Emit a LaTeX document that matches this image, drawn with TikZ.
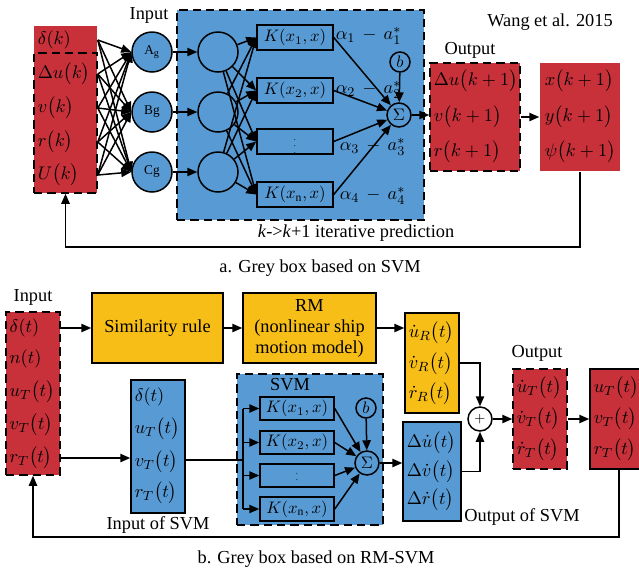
\documentclass[tikz,border=0pt]{standalone}
\usepackage{fontspec}
\setmainfont{Liberation Serif}
\usepackage{amsmath}
\usetikzlibrary{arrows.meta,positioning,fit,calc}
\definecolor{boxred}{RGB}{200,48,58}
\definecolor{boxblue}{RGB}{88,155,212}
\definecolor{boxyellow}{RGB}{247,190,24}

\begin{document}
\begin{tikzpicture}[x=0.6pt, y=-0.6pt, line width=0.9pt,
    font=\fontsize{11}{12.6}\selectfont,
    >={Triangle[length=6pt,width=5pt]},
    redfill/.style={fill=boxred, inner sep=0pt},
    bluefill/.style={fill=boxblue, inner sep=0pt},
    yelfill/.style={fill=boxyellow, inner sep=0pt},
    dashbox/.style={draw, dash pattern=on 5pt off 3pt, inner sep=0pt},
    solidbox/.style={draw, inner sep=0pt},
    row/.style={anchor=west, inner sep=0pt},
    bcirc/.style={draw, circle, fill=boxblue, minimum size=24pt, inner sep=0pt, font=\fontsize{8}{9}\selectfont},
    ocirc/.style={draw, circle, minimum size=24pt, inner sep=0pt},
    kbox/.style={draw, inner sep=0pt},
    klbl/.style={inner sep=0pt, font=\fontsize{10}{11}\selectfont},
    sumc/.style={draw, circle, minimum size=14.4pt, inner sep=0pt, font=\fontsize{10}{11}\selectfont},
    bc/.style={draw, circle, minimum size=12pt, inner sep=0pt, font=\fontsize{10}{11}\selectfont}]

    \useasboundingbox (0,0) rectangle (639,574);
    \clip (0,0) rectangle (639,574);

    % a. grey box based on SVM
    \node[redfill, fit={(34,26) (97,193)}] (inA) {};
    \node[dashbox, fit={(34,53) (97,193)}] (inAd) {};
    \node[row] (dk) at (37,40) {$\delta(k)$};
    \node[row] (duk) at (37,74) {$\Delta u\bigl(k\bigr)$};
    \node[row] (vk) at (37,108) {$v\bigl(k\bigr)$};
    \node[row] (rk) at (37,142) {$r\bigl(k\bigr)$};
    \node[row] (Uk) at (37,175) {$U\bigl(k\bigr)$};
    \node (inlblA) at (149,15) {Input};

    \node[bcirc] (Ag) at (152,52) {A$_\mathrm{g}$};
    \node[bcirc] (Bg) at (152,112) {Bg};
    \node[bcirc] (Cg) at (152,172) {Cg};

    \node[bluefill, dashbox, fit={(177,10) (424,220)}] (svmA) {};
    \node[ocirc] (n1) at (218,52) {};
    \node[ocirc] (n2) at (218,112) {};
    \node[ocirc] (n3) at (218,172) {};
    \node[kbox, fit={(257,25) (333,50)}] (k1) {};
    \node[kbox, fit={(257,78) (333,103)}] (k2) {};
    \node[kbox, fit={(257,129) (333,154)}] (k3) {};
    \node[kbox, fit={(257,182) (333,207)}] (k4) {};
    \node[klbl] (k1l) at (k1) {$K(x_1,x)$};
    \node[klbl] (k2l) at (k2) {$K(x_2,x)$};
    \node[klbl] (k3l) at (k3) {\tiny$\vdots$};
    \node[klbl] (k4l) at (k4) {$K(x_\mathrm{n},x)$};
    \node[bc] (bA) at (400,62) {$b$};
    \node[sumc] (sumA) at (399,115) {$\Sigma$};

    \foreach \r in {dk,duk,vk,rk,Uk}
        \foreach \c in {Ag,Bg,Cg}
            \draw[->] (inA.east |- \r) -- (\c.west);
    \draw[->] (Ag) -- (n1);
    \draw[->] (Bg) -- (n2);
    \draw[->] (Cg) -- (n3);
    \foreach \n in {n1,n2,n3}
        \foreach \k in {k1,k2,k3,k4}
            \draw[->] (\n) -- (\k.west);
    \foreach \k in {k1,k2,k3,k4}
        \draw[->] (\k.east) -- (sumA);
    \draw[->] (bA) -- (sumA);

    \node[row] (al1) at (335,36) {$\alpha_1\,-\,a_1^{*}$};
    \node[row] (al2) at (335,90) {$\alpha_2\,-\,a_2^{*}$};
    \node[row] (al3) at (339,147) {$\alpha_3\,-\,a_3^{*}$};
    \node[row] (al4) at (339,196) {$\alpha_4\,-\,a_4^{*}$};

    \node[redfill, dashbox, fit={(430,63) (520,171)}] (outA) {};
    \node (outlblA) at (470,50) {Output};
    \node[row] (duk1) at (433,81) {$\Delta u\bigl(k+1\bigr)$};
    \node[row] (vk1) at (433,117) {$v\bigl(k+1\bigr)$};
    \node[row] (rk1) at (433,152) {$r\bigl(k+1\bigr)$};

    \node[redfill, fit={(540,63) (620,171)}] (posA) {};
    \node[row] (xk1) at (544,81) {$x\bigl(k+1\bigr)$};
    \node[row] (yk1) at (544,117) {$y\bigl(k+1\bigr)$};
    \node[row] (psik1) at (544,152) {$\psi\bigl(k+1\bigr)$};
    \node (wang) at (550,22) {Wang et al. 2015};

    \draw[->] (sumA) -- (outA.west |- sumA);
    \draw[->] (outA.east |- vk1) -- (posA.west |- vk1);
    \draw[->] (posA.south) -- ++(0,75) -| (inA.south);
    \node (iterlbl) at (356,233) {\textit{k}->\textit{k}+1 iterative prediction};
    \node (capA) at (320,268) {a. Grey box based on SVM};

    % b. grey box based on RM-SVM
    \node (inlblB) at (33,297) {Input};
    \node[redfill, dashbox, fit={(6,312) (60,475)}] (inB) {};
    \node[row] (dt) at (9,328) {$\delta(t)$};
    \node[row] (nt) at (9,359) {$n(t)$};
    \node[row] (ut) at (9,392) {$u_T\bigl(t\bigr)$};
    \node[row] (vt) at (9,425) {$v_T\bigl(t\bigr)$};
    \node[row] (rt) at (9,458) {$r_T\bigl(t\bigr)$};

    \node[yelfill, solidbox, fit={(92,293) (223,363)}] (sim) {};
    \node (siml) at (sim) {Similarity rule};
    \node[yelfill, solidbox, fit={(243,293) (376,363)}] (rm) {};
    \node[align=center] (rml) at (rm) {RM\\(nonlinear ship\\motion model)};
    \node[yelfill, solidbox, fit={(405,313) (459,413)}] (yel) {};
    \node[row] (udr) at (408,333) {$\dot u_R\bigl(t\bigr)$};
    \node[row] (vdr) at (408,364) {$\dot v_R\bigl(t\bigr)$};
    \node[row] (rdr) at (408,394) {$\dot r_R\bigl(t\bigr)$};

    \node[bluefill, solidbox, fit={(131,380) (185,513)}] (insvm) {};
    \node[row] (sdt) at (134,397) {$\delta(t)$};
    \node[row] (sut) at (134,429) {$u_T\bigl(t\bigr)$};
    \node[row] (svt) at (134,462) {$v_T\bigl(t\bigr)$};
    \node[row] (srt) at (134,493) {$r_T\bigl(t\bigr)$};
    \node (inlblS) at (158,525) {Input of SVM};

    \node[bluefill, dashbox, fit={(237,374) (383,525)}] (svmB) {};
    \node (svmlbl) at (290,385) {SVM};
    \node[kbox, fit={(260,397) (334,420)}] (kb1) {};
    \node[kbox, fit={(260,431) (334,454)}] (kb2) {};
    \node[kbox, fit={(260,464) (334,487)}] (kb3) {};
    \node[kbox, fit={(260,497) (334,521)}] (kb4) {};
    \node[klbl] (kb1l) at (kb1) {$K(x_1,x)$};
    \node[klbl] (kb2l) at (kb2) {$K(x_2,x)$};
    \node[klbl] (kb3l) at (kb3) {\tiny$\vdots$};
    \node[klbl] (kb4l) at (kb4) {$K(x_\mathrm{n},x)$};
    \node[bc] (bB) at (366,408) {$b$};
    \node[sumc] (sumB) at (367,463) {$\Sigma$};
    \coordinate (br) at (243,460);

    \node[bluefill, solidbox, fit={(403,422) (461,521)}] (dl) {};
    \node[row] (dud) at (406,443) {$\Delta\dot u\bigl(t\bigr)$};
    \node[row] (dvd) at (406,472) {$\Delta\dot v\bigl(t\bigr)$};
    \node[row] (drd) at (406,500) {$\Delta\dot r\bigl(t\bigr)$};
    \node (outlblS) at (522,517) {Output of SVM};

    \node[draw, circle, fill=white, minimum size=14.4pt, inner sep=0pt, font=\fontsize{8}{9}\selectfont] (plus) at (480,419) {$+$};

    \node[redfill, dashbox, fit={(513,369) (567,469)}] (outB) {};
    \node (outlblB) at (537,353) {Output};
    \node[row] (udt) at (516,388) {$\dot u_T\bigl(t\bigr)$};
    \node[row] (vdt) at (516,419) {$\dot v_T\bigl(t\bigr)$};
    \node[row] (rdt) at (516,450) {$\dot r_T\bigl(t\bigr)$};

    \node[redfill, solidbox, fit={(590,369) (650,469)}] (posB) {};
    \node[row] (put) at (593,388) {$u_T\bigl(t\bigr)$};
    \node[row] (pvt) at (593,419) {$v_T\bigl(t\bigr)$};
    \node[row] (prt) at (593,450) {$r_T\bigl(t\bigr)$};

    \draw[->] (inB.east |- dt) -- (sim.west |- dt);
    \draw[->] (sim) -- (rm);
    \draw[->] (rm.east) -- (yel.west |- rm);
    \draw[->] (inB.east |- rt) -- (insvm.west |- rt);
    \draw (insvm.east |- br) -- (br);
    \draw (br |- kb1) -- (br |- kb4);
    \foreach \k in {kb1,kb2,kb3,kb4} {
        \draw[->] (br |- \k) -- (\k.west);
        \draw[->] (\k.east) -- (sumB);
    }
    \draw[->] (bB) -- (sumB);
    \draw[->] (sumB) -- (dl.west |- sumB);
    \draw[->] (yel.east) -| (plus.north);
    \draw[->] (dl.east) -| (plus.south);
    \draw[->] (plus) -- (outB.west |- plus);
    \draw[->] (outB.east |- vdt) -- (posB.west |- vdt);
    \draw[->] (posB.south -| 619,0) -- ++(0,67) -| (inB.south);
    \node (capB) at (316,559) {b. Grey box based on RM-SVM};
\end{tikzpicture}
\end{document}
